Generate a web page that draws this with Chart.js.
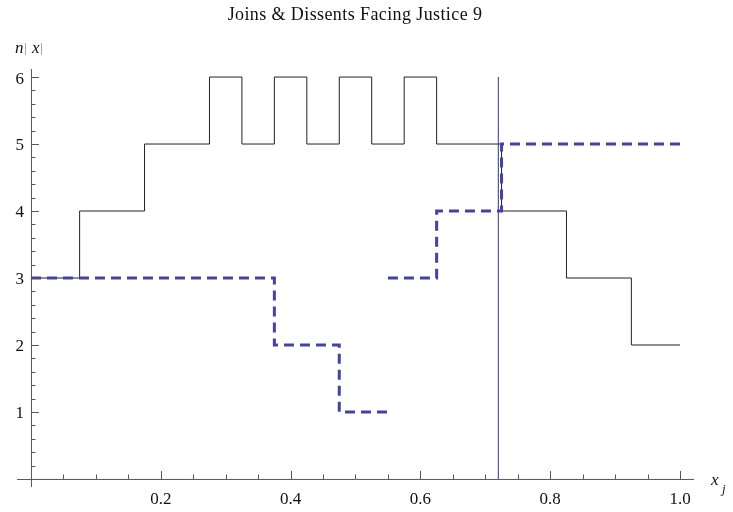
<!DOCTYPE html>
<html>
<head>
<meta charset="utf-8">
<script src="https://cdn.jsdelivr.net/npm/chart.js@4"></script>
<style>
  html, body { margin: 0; padding: 0; background: #fff; }
  #wrap { width: 733px; height: 512px; }
</style>
</head>
<body>
<div id="wrap"><canvas id="c" width="733" height="512"></canvas></div>
<script>
// ── Data ─────────────────────────────────────────────────────
const TITLE = 'Joins & Dissents Facing Justice 9';

// solid black step curve: value holds from each x until the next
const soloX = [0, 0.075, 0.175, 0.275, 0.325, 0.375, 0.425, 0.475, 0.525, 0.575, 0.625, 0.725, 0.825, 0.925, 1.0];
const soloN = [3, 4,     5,     6,     5,     6,     5,     6,     5,     6,     5,     4,     3,     2,     2];

// dashed blue step curve, broken at 0.55 (null = gap)
const dashX = [0, 0.375, 0.475, 0.55, 0.55, 0.55, 0.625, 0.725, 1.0];
const dashN = [3, 2,     1,     1,    null, 3,    4,     5,     5];

// vertical marker
const markX = 0.72;
const markN = [0, 6];

const xTicks = [0.2, 0.4, 0.6, 0.8, 1.0];
const yTicks = [1, 2, 3, 4, 5, 6];

const SERIF = '"Liberation Serif", "DejaVu Serif", serif';

const toPoints = (xs, ys) => xs.map((v, i) => ({ x: v, y: ys[i] }));

// ── Mathematica-style axes drawn off the chart's own scales ──
const axesPlugin = {
  id: 'mmaAxes',
  afterDatasetsDraw(chart) {
    const { ctx, scales: { x, y } } = chart;
    const x0 = x.getPixelForValue(0);
    const y0 = y.getPixelForValue(0);
    ctx.save();
    ctx.strokeStyle = '#555';
    ctx.lineWidth = 1;

    // axis lines
    ctx.beginPath();
    ctx.moveTo(x.left, y0 + 0.5);
    ctx.lineTo(x.right, y0 + 0.5);
    ctx.moveTo(x0 + 0.5, y.top);
    ctx.lineTo(x0 + 0.5, y.bottom);
    ctx.stroke();

    // x ticks: minor every 0.05, major every 0.2
    ctx.beginPath();
    for (let i = 1; i <= 20; i++) {
      const px = Math.round(x.getPixelForValue(i * 0.05)) + 0.5;
      const len = i % 4 === 0 ? 8 : 4.5;
      ctx.moveTo(px, y0);
      ctx.lineTo(px, y0 - len);
    }
    // y ticks: minor every 0.2, major every 1
    for (let i = 1; i <= 30; i++) {
      const py = Math.round(y.getPixelForValue(i * 0.2)) + 0.5;
      const len = i % 5 === 0 ? 8 : 4.5;
      ctx.moveTo(x0, py);
      ctx.lineTo(x0 + len, py);
    }
    ctx.stroke();

    // tick labels
    ctx.fillStyle = '#111';
    ctx.font = '17px ' + SERIF;
    ctx.textAlign = 'center';
    ctx.textBaseline = 'alphabetic';
    xTicks.forEach(v => ctx.fillText(v.toFixed(1), x.getPixelForValue(v), y0 + 25));
    ctx.textAlign = 'right';
    ctx.textBaseline = 'middle';
    yTicks.forEach(v => ctx.fillText(String(v), x0 - 7, y.getPixelForValue(v) + 2));

    // axis labels
    ctx.font = 'italic 17px ' + SERIF;
    ctx.textAlign = 'left';
    ctx.textBaseline = 'alphabetic';
    ctx.fillText('x', 711, y0 + 6);
    ctx.font = 'italic 13px ' + SERIF;
    ctx.fillText('j', 722, y0 + 14);

    ctx.font = 'italic 17px ' + SERIF;
    ctx.fillText('n', 15, 53);
    ctx.fillText('x', 32, 53);
    ctx.strokeStyle = '#aaa';
    ctx.beginPath();
    ctx.moveTo(25.5, 43); ctx.lineTo(25.5, 55);
    ctx.moveTo(41.5, 43); ctx.lineTo(41.5, 55);
    ctx.stroke();

    // title
    ctx.fillStyle = '#111';
    ctx.font = '18px ' + SERIF;
    ctx.letterSpacing = '0.4px';
    ctx.textAlign = 'center';
    ctx.fillText(TITLE, 355, 20);
    ctx.restore();
  }
};

new Chart(document.getElementById('c'), {
  type: 'line',
  data: {
    datasets: [
      {
        label: 'solid',
        data: toPoints(soloX, soloN),
        stepped: 'before',
        borderColor: '#222',
        borderWidth: 1,
        pointRadius: 0,
        fill: false,
        order: 2,
      },
      {
        label: 'marker',
        data: toPoints([markX, markX], markN),
        borderColor: 'rgb(50,50,140)',
        borderWidth: 1,
        pointRadius: 0,
        fill: false,
        order: 1,
      },
      {
        label: 'dashed',
        data: toPoints(dashX, dashN),
        stepped: 'before',
        spanGaps: false,
        borderColor: 'rgb(66,66,165)',
        borderWidth: 3,
        borderDash: [10, 6],
        pointRadius: 0,
        fill: false,
        order: 0,
      },
    ],
  },
  options: {
    responsive: false,
    animation: false,
    layout: { padding: { left: 17, right: 39, top: 69, bottom: 25 } },
    plugins: { legend: { display: false }, tooltip: { enabled: false }, title: { display: false } },
    scales: {
      x: { type: 'linear', min: -0.0215, max: 1.0215, display: false },
      y: { type: 'linear', min: -0.12, max: 6.12, display: false },
    },
  },
  plugins: [axesPlugin],
});
</script>
</body>
</html>
